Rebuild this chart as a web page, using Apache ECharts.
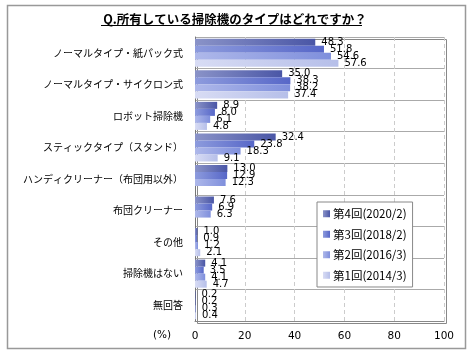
<!DOCTYPE html>
<html>
<head>
<meta charset="utf-8">
<script src="https://cdn.jsdelivr.net/npm/echarts@6/dist/echarts.min.js"></script>
<style>
  html, body { margin: 0; padding: 0; background: #fff; }
  #chart { width: 470px; height: 350px; }
</style>
</head>
<body>
<div id="chart"></div>
<script>
// 設問の選択肢
var categories = ['ノーマルタイプ・紙パック式', 'ノーマルタイプ・サイクロン式', 'ロボット掃除機',
  'スティックタイプ（スタンド）', 'ハンディクリーナー（布団用以外）', '布団クリーナー',
  'その他', '掃除機はない', '無回答'];

var seriesNames = ['第4回(2020/2)', '第3回(2018/2)', '第2回(2016/3)', '第1回(2014/3)'];

// 各回の回答率(%)  null = その回は選択肢なし
var r4 = [48.3, 35.0, 8.9, 32.4, 13.0, 7.6, 1.0, 4.1, 0.2];
var r3 = [51.8, 38.3, 8.0, 23.8, 12.9, 6.9, 0.9, 3.5, 0.2];
var r2 = [54.6, 38.2, 6.1, 18.3, 12.3, 6.3, 1.2, 4.1, 0.3];
var r1 = [57.6, 37.4, 4.8, 9.1, null, null, 2.1, 4.7, 0.4];

var xTicks = [0, 20, 40, 60, 80, 100];

var colorBase = ['#4a56a6', '#5767c8', '#7f8fdc', '#b6bfe9'];
var colorLight = ['#8a93c8', '#8d9bdd', '#aeb8ea', '#d8dcf4'];

function mkSeries(i, data) {
  return {
    name: seriesNames[i],
    type: 'bar',
    data: data,
    barGap: '0%',
    barCategoryGap: '11%',
    itemStyle: {
      color: new echarts.graphic.LinearGradient(0, 0, 1, 0, [
        { offset: 0, color: colorLight[i] },
        { offset: 1, color: colorBase[i] }
      ])
    },
    label: {
      show: true,
      position: 'right',
      distance: 6,
      color: '#000',
      fontFamily: 'DejaVu Sans',
      fontSize: 10,
      formatter: function (p) { return p.value == null ? '' : p.value.toFixed(1); }
    }
  };
}

var chart = echarts.init(document.getElementById('chart'));
chart.setOption({
  animation: false,
  color: colorBase,
  title: {
    text: 'Q.所有している掃除機のタイプはどれですか？',
    left: 'center',
    top: 8,
    textStyle: { fontFamily: 'Noto Sans CJK JP', fontSize: 12.5, fontWeight: 'bold', color: '#000' }
  },
  grid: { left: 195, right: 26, top: 37, bottom: 29 },
  legend: {
    orient: 'vertical',
    left: 317,
    top: 202,
    width: 94,
    padding: [6, 6, 6, 6],
    itemGap: 9,
    itemWidth: 7,
    itemHeight: 7,
    icon: 'rect',
    borderColor: '#888',
    borderWidth: 1,
    backgroundColor: '#fff',
    textStyle: { fontFamily: 'Noto Sans CJK JP', fontSize: 11.5, color: '#000', padding: [0, 0, 0, -2] },
    data: seriesNames
  },
  xAxis: {
    type: 'value',
    min: 0,
    max: 100,
    interval: 20,
    axisLine: { show: true, lineStyle: { color: '#888' } },
    axisTick: { show: false },
    axisLabel: {
      color: '#000',
      fontFamily: 'DejaVu Sans',
      fontSize: 10.5,
      margin: 10,
      formatter: function (v) { return xTicks.indexOf(v) >= 0 ? String(v) : ''; }
    },
    splitLine: { show: true, lineStyle: { color: '#ccc', type: [4, 3] } }
  },
  yAxis: {
    type: 'category',
    inverse: true,
    data: categories,
    axisLine: { show: true, lineStyle: { color: '#777' } },
    axisTick: { show: false },
    axisLabel: { color: '#000', fontFamily: 'Noto Sans CJK JP', fontSize: 10, margin: 12 },
    splitLine: { show: true, lineStyle: { color: '#aaa' } }
  },
  graphic: [
    { type: 'rect', left: 5, top: 3, shape: { width: 458, height: 343 },
      style: { fill: 'none', stroke: '#999', lineWidth: 1.5 }, z: -1 },
    { type: 'rect', left: 195, top: 37, shape: { width: 249, height: 284 },
      style: { fill: 'none', stroke: '#888', lineWidth: 1 }, z: 0 },
    { type: 'line', shape: { x1: 101, y1: 25.5, x2: 362, y2: 25.5 },
      style: { stroke: '#000', lineWidth: 1 } },
    { type: 'text', left: 153, top: 330,
      style: { text: '(%)', fill: '#000', font: '10.5px DejaVu Sans' } }
  ],
  series: [mkSeries(0, r4), mkSeries(1, r3), mkSeries(2, r2), mkSeries(3, r1)]
});
</script>
</body>
</html>
